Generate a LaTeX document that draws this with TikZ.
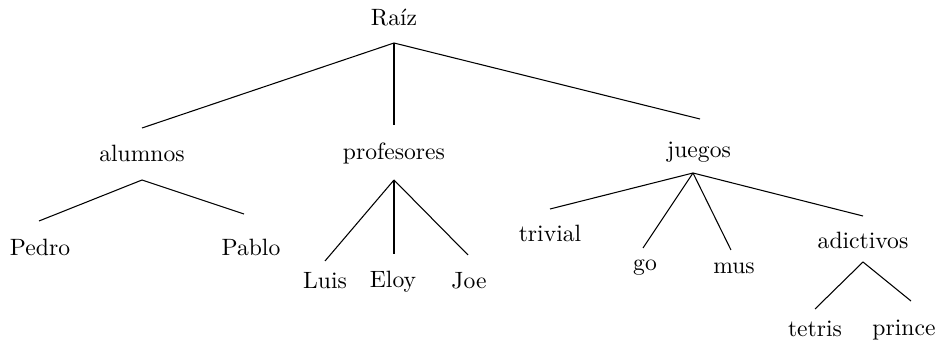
\documentclass[tikz,border=0pt]{standalone}
\begin{document}
\begin{tikzpicture}[x=0.4237pt,y=-0.4237pt,
  lbl/.style={anchor=base,inner sep=0pt,font=\fontsize{10}{12}\selectfont},
  edge/.style={line width=0.45pt}]
\useasboundingbox (0,0) rectangle (936,345);
% labels
\node[lbl] (raiz) at (394,26) {Raíz};
\node[lbl] (alumnos) at (142,162) {alumnos};
\node[lbl] (profesores) at (394,160) {profesores};
\node[lbl] (juegos) at (699,158) {juegos};
\node[lbl] (pedro) at (40,256) {Pedro};
\node[lbl] (pablo) at (251,256) {Pablo};
\node[lbl] (luis) at (325,289) {Luis};
\node[lbl] (eloy) at (393,288) {Eloy};
\node[lbl] (joe) at (469,289) {Joe};
\node[lbl] (trivial) at (550,242) {trivial};
\node[lbl] (go) at (645,271) {go};
\node[lbl] (mus) at (734,274) {mus};
\node[lbl] (adictivos) at (863,249) {adictivos};
\node[lbl] (tetris) at (815,337) {tetris};
\node[lbl] (prince) at (904,336) {prince};
% connector end points
\coordinate (raiz-b) at (394,43);
\coordinate (alumnos-t) at (142,128);
\coordinate (profesores-t) at (394,125);
\coordinate (juegos-t) at (700,119);
\coordinate (alumnos-b) at (142,180);
\coordinate (pedro-t) at (39,221);
\coordinate (pablo-t) at (244,214);
\coordinate (profesores-b) at (394,180);
\coordinate (luis-t) at (325,261);
\coordinate (eloy-t) at (394,254);
\coordinate (joe-t) at (468,255);
\coordinate (juegos-b) at (693,173);
\coordinate (trivial-t) at (550,209);
\coordinate (go-t) at (643,248);
\coordinate (mus-t) at (731,250);
\coordinate (adictivos-t) at (863,216);
\coordinate (adictivos-b) at (863,262);
\coordinate (tetris-t) at (815,309);
\coordinate (prince-t) at (911,301);
% connectors
\draw[edge] (raiz-b) -- (alumnos-t);
\draw[edge] (raiz-b) -- (profesores-t);
\draw[edge] (raiz-b) -- (juegos-t);
\draw[edge] (alumnos-b) -- (pedro-t);
\draw[edge] (alumnos-b) -- (pablo-t);
\draw[edge] (profesores-b) -- (luis-t);
\draw[edge] (profesores-b) -- (eloy-t);
\draw[edge] (profesores-b) -- (joe-t);
\draw[edge] (juegos-b) -- (trivial-t);
\draw[edge] (juegos-b) -- (go-t);
\draw[edge] (juegos-b) -- (mus-t);
\draw[edge] (juegos-b) -- (adictivos-t);
\draw[edge] (adictivos-b) -- (tetris-t);
\draw[edge] (adictivos-b) -- (prince-t);
\end{tikzpicture}
\end{document}
